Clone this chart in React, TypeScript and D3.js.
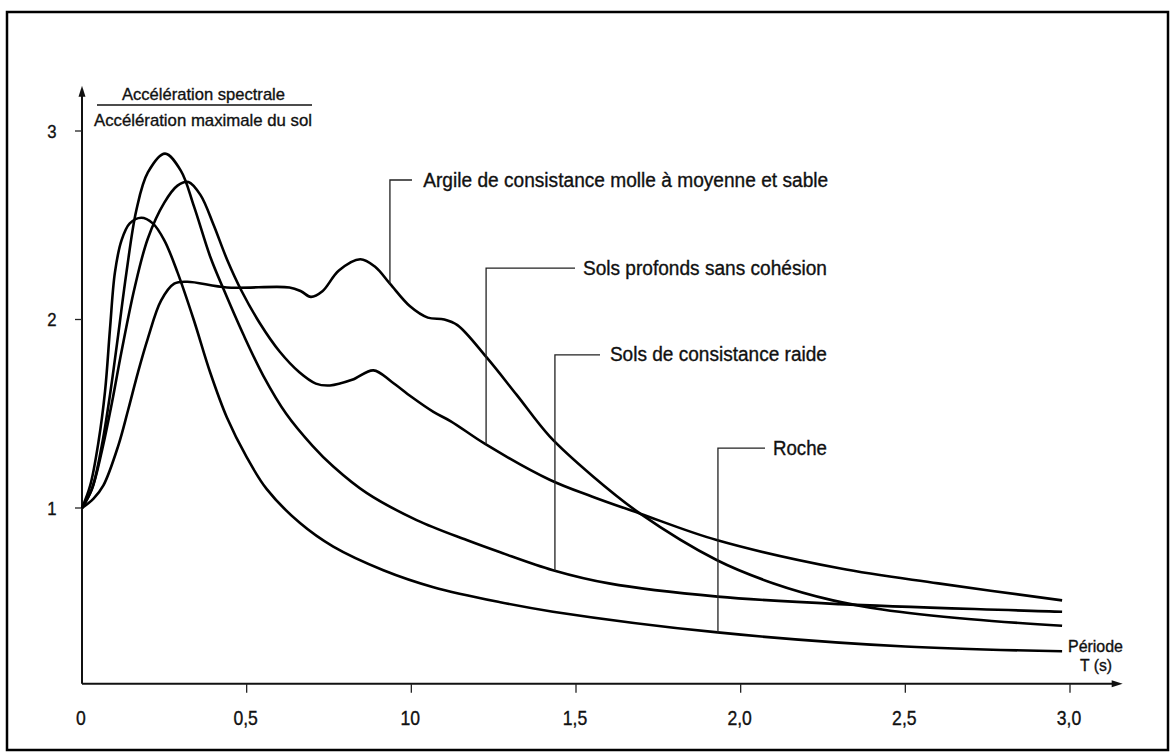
import React from "react";
import * as d3 from "d3";

type Pt = [number, number];

const rocheData: Pt[] = [
  [0, 1], [0.025, 1.12], [0.05, 1.35], [0.07, 1.62], [0.085, 1.95], [0.1, 2.25],
  [0.12, 2.42], [0.145, 2.51], [0.18, 2.54], [0.215, 2.51], [0.25, 2.42], [0.29, 2.25],
  [0.339, 2.0], [0.389, 1.72], [0.44, 1.48], [0.5, 1.27], [0.561, 1.1], [0.662, 0.92],
  [0.763, 0.795], [0.915, 0.67], [1.067, 0.58], [1.27, 0.5], [1.43, 0.45], [1.93, 0.34],
  [2.5, 0.265], [2.976, 0.24],
];

const raideData: Pt[] = [
  [0, 1], [0.03, 1.1], [0.06, 1.33], [0.085, 1.6], [0.11, 1.92], [0.135, 2.25],
  [0.165, 2.58], [0.2, 2.78], [0.252, 2.88], [0.3, 2.79], [0.34, 2.6], [0.39, 2.33],
  [0.43, 2.16], [0.49, 1.92], [0.551, 1.7], [0.62, 1.5], [0.7, 1.33], [0.763, 1.22],
  [0.864, 1.08], [1.016, 0.936], [1.168, 0.83], [1.27, 0.765], [1.43, 0.67], [1.6, 0.6],
  [1.93, 0.53], [2.3, 0.49], [2.976, 0.45],
];

const profondsData: Pt[] = [
  [0, 1], [0.03, 1.1], [0.06, 1.3], [0.09, 1.55], [0.12, 1.83], [0.16, 2.17], [0.2, 2.43],
  [0.25, 2.62], [0.29, 2.71], [0.323, 2.73], [0.36, 2.66], [0.4, 2.5], [0.44, 2.32],
  [0.485, 2.15], [0.54, 1.98], [0.6, 1.83], [0.66, 1.72], [0.71, 1.66], [0.753, 1.65],
  [0.82, 1.68], [0.885, 1.73], [0.94, 1.67], [1.0, 1.59], [1.067, 1.51], [1.12, 1.46],
  [1.224, 1.34], [1.42, 1.15], [1.55, 1.06], [1.695, 0.97], [1.927, 0.83],
  [2.3, 0.68], [2.6, 0.6], [2.976, 0.51],
];

const argileData: Pt[] = [
  [0, 1], [0.035, 1.05], [0.065, 1.12], [0.11, 1.33], [0.14, 1.52], [0.17, 1.72],
  [0.2, 1.9], [0.24, 2.1], [0.28, 2.19], [0.32, 2.2], [0.44, 2.17], [0.63, 2.17],
  [0.665, 2.15], [0.695, 2.12], [0.73, 2.15], [0.78, 2.26], [0.845, 2.32], [0.89, 2.28],
  [0.935, 2.19], [0.996, 2.07], [1.05, 2.01], [1.1, 2.0], [1.14, 1.97], [1.228, 1.8],
  [1.32, 1.6], [1.42, 1.38], [1.55, 1.17], [1.695, 0.97], [1.927, 0.724], [2.1, 0.6],
  [2.28, 0.51], [2.43, 0.462], [2.7, 0.41], [2.976, 0.375],
];

const xTickValues = [0, 0.5, 1.0, 1.5, 2.0, 2.5, 3.0];
const xTickLabels = ["0", "0,5", "10", "1,5", "2,0", "2,5", "3,0"];
const yTickValues = [1, 2, 3];
const yTickLabels = ["1", "2", "3"];

const seriesNames = [
  "Argile de consistance molle à moyenne et sable",
  "Sols profonds sans cohésion",
  "Sols de consistance raide",
  "Roche",
];
const seriesData = [argileData, profondsData, raideData, rocheData];
// leader anchor T on curve, elbow level (value), horizontal end T, text start T
const leaderAnchorT = [0.935, 1.227, 1.436, 1.931];
const leaderElbowV = [2.74, 2.273, 1.812, 1.318];
const leaderEndT = [1.002, 1.497, 1.573, 2.074];
const labelStartT = [1.036, 1.521, 1.603, 2.098];
const labelWidths = [405, 244, 217, 54];

const yLabelTop = "Accélération spectrale";
const yLabelBottom = "Accélération maximale du sol";
const xLabelTop = "Période";
const xLabelBottom = "T (s)";

const W = 1175;
const H = 753;
const FONT = "'Liberation Sans', Arial, Helvetica, sans-serif";

function interp(data: Pt[], t: number): number {
  for (let i = 0; i < data.length - 1; i++) {
    const [x0, y0] = data[i];
    const [x1, y1] = data[i + 1];
    if (t >= x0 && t <= x1) return y0 + ((t - x0) / (x1 - x0)) * (y1 - y0);
  }
  return data[data.length - 1][1];
}

export default function App() {
  const x = d3.scaleLinear().domain([0, 3]).range([82, 1070]);
  const y = d3.scaleLinear().domain([0, 3]).range([696.5, 131]);
  const axisV = 0.068; // level of horizontal axis
  const axisY = y(axisV);
  const xAxisEnd = x(3.16);
  const yAxisTop = y(3.24);

  const line = d3
    .line<Pt>()
    .x((d) => x(d[0]))
    .y((d) => y(d[1]))
    .curve(d3.curveCatmullRom.alpha(0.5));

  const textStroke = { stroke: "#111", strokeWidth: 0.35 };

  return (
    <div style={{ position: "fixed", left: 0, top: 0 }}>
      <svg width={W} height={H} style={{ display: "block", background: "#fff" }}>
        <rect x={7} y={12} width={1161} height={738} fill="none" stroke="#000" strokeWidth={2.5} />

        {/* axes */}
        <line x1={x(0)} y1={axisY} x2={xAxisEnd - 8} y2={axisY} stroke="#111" strokeWidth={2} />
        <path
          d={`M${xAxisEnd},${axisY} L${xAxisEnd - 11},${axisY - 3.5} L${xAxisEnd - 11},${axisY + 3.5} Z`}
          fill="#111"
        />
        <line x1={x(0)} y1={axisY} x2={x(0)} y2={yAxisTop + 8} stroke="#111" strokeWidth={2} />
        <path
          d={`M${x(0)},${yAxisTop} L${x(0) - 3.5},${yAxisTop + 11} L${x(0) + 3.5},${yAxisTop + 11} Z`}
          fill="#111"
        />

        {/* x ticks */}
        {xTickValues.map((v, i) => (
          <g key={"xt" + i}>
            {i > 0 && (
              <line x1={x(v)} y1={axisY} x2={x(v)} y2={axisY + 9} stroke="#222" strokeWidth={1.3} />
            )}
            <text
              x={x(v) - 1}
              y={axisY + 41}
              textAnchor="middle"
              fontFamily={FONT}
              fontSize={20}
              fill="#111"
              {...textStroke}
              transform={`translate(${x(v) - 1},0) scale(0.88,1) translate(${-(x(v) - 1)},0)`}
            >
              {xTickLabels[i]}
            </text>
          </g>
        ))}

        {/* y ticks */}
        {yTickValues.map((v, i) => (
          <g key={"yt" + i}>
            <line x1={x(0) - 7} y1={y(v)} x2={x(0)} y2={y(v)} stroke="#222" strokeWidth={1.3} />
            <text
              x={52}
              y={y(v) + 7}
              textAnchor="middle"
              fontFamily={FONT}
              fontSize={19}
              fill="#111"
              {...textStroke}
              transform={`translate(52,0) scale(0.88,1) translate(-52,0)`}
            >
              {yTickLabels[i]}
            </text>
          </g>
        ))}

        {/* y label fraction */}
        <text x={122} y={100} fontFamily={FONT} fontSize={17} fill="#111" {...textStroke} textLength={163} lengthAdjust="spacingAndGlyphs">
          {yLabelTop}
        </text>
        <line x1={97} y1={105} x2={312} y2={105} stroke="#111" strokeWidth={1.3} />
        <text x={94} y={126} fontFamily={FONT} fontSize={17} fill="#111" {...textStroke} textLength={218} lengthAdjust="spacingAndGlyphs">
          {yLabelBottom}
        </text>

        {/* x label */}
        <text x={1068} y={652} fontFamily={FONT} fontSize={16} fill="#111" {...textStroke} textLength={55} lengthAdjust="spacingAndGlyphs">
          {xLabelTop}
        </text>
        <text x={1080} y={671} fontFamily={FONT} fontSize={16} fill="#111" {...textStroke} textLength={32} lengthAdjust="spacingAndGlyphs">
          {xLabelBottom}
        </text>

        {/* curves */}
        {seriesData.map((d, i) => (
          <path key={"s" + i} d={line(d) || ""} fill="none" stroke="#000" strokeWidth={2.6} strokeLinejoin="round" />
        ))}

        {/* leaders and labels */}
        {seriesNames.map((name, i) => {
          const ax = x(leaderAnchorT[i]);
          const ay = y(interp(seriesData[i], leaderAnchorT[i]));
          const ey = y(leaderElbowV[i]);
          const hx = x(leaderEndT[i]);
          return (
            <g key={"l" + i}>
              <path d={`M${ax},${ay} L${ax},${ey} L${hx},${ey}`} fill="none" stroke="#222" strokeWidth={1.3} />
              <text
                x={x(labelStartT[i])}
                y={ey + 6.5}
                fontFamily={FONT}
                fontSize={20}
                fill="#111"
                {...textStroke}
                textLength={labelWidths[i]}
                lengthAdjust="spacingAndGlyphs"
              >
                {name}
              </text>
            </g>
          );
        })}
      </svg>
    </div>
  );
}
